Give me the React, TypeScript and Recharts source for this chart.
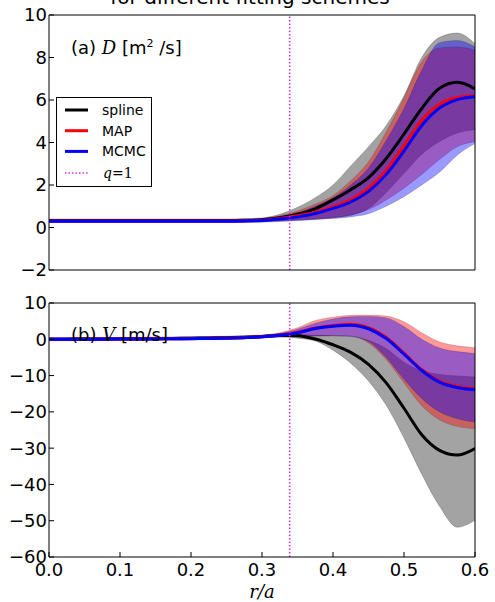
import React from 'react';
import { ComposedChart, Area, Line, XAxis, YAxis, ReferenceLine } from 'recharts';

// r/a sample points
const radius = [0, 0.025, 0.05, 0.075, 0.1, 0.125, 0.15, 0.175, 0.2, 0.225, 0.25, 0.275, 0.3, 0.325, 0.35, 0.375, 0.4, 0.425, 0.45, 0.475, 0.5, 0.525, 0.55, 0.575, 0.6];
const qSurface = 0.339;

// (a) D [m^2/s]
const splineD = [0.33, 0.33, 0.33, 0.33, 0.33, 0.33, 0.33, 0.33, 0.33, 0.33, 0.33, 0.34, 0.37, 0.46, 0.62, 0.88, 1.3, 1.78, 2.35, 3.25, 4.4, 5.6, 6.55, 6.83, 6.52];
const splineDLo = [0.27, 0.27, 0.27, 0.27, 0.27, 0.27, 0.27, 0.27, 0.27, 0.27, 0.27, 0.27, 0.29, 0.32, 0.36, 0.4, 0.47, 0.57, 0.9, 1.65, 2.55, 3.45, 4.05, 4.45, 4.6];
const splineDHi = [0.4, 0.4, 0.4, 0.4, 0.4, 0.4, 0.4, 0.4, 0.4, 0.4, 0.4, 0.41, 0.45, 0.62, 0.95, 1.4, 2.0, 2.9, 3.8, 4.8, 6.2, 8.0, 8.95, 9.15, 8.65];
const mapD = [0.31, 0.31, 0.31, 0.31, 0.31, 0.31, 0.31, 0.31, 0.31, 0.31, 0.31, 0.32, 0.34, 0.42, 0.55, 0.72, 0.98, 1.3, 1.85, 2.7, 3.85, 5.05, 5.8, 6.12, 6.2];
const mapDLo = [0.25, 0.25, 0.25, 0.25, 0.25, 0.25, 0.25, 0.25, 0.25, 0.25, 0.25, 0.25, 0.27, 0.3, 0.35, 0.4, 0.45, 0.6, 0.85, 1.3, 1.85, 2.5, 3.2, 3.8, 4.05];
const mapDHi = [0.38, 0.38, 0.38, 0.38, 0.38, 0.38, 0.38, 0.38, 0.38, 0.38, 0.38, 0.39, 0.42, 0.55, 0.78, 1.1, 1.5, 2.2, 3.1, 4.5, 6.1, 7.8, 8.45, 8.5, 8.35];
const mcmcD = [0.3, 0.3, 0.3, 0.3, 0.3, 0.3, 0.3, 0.3, 0.3, 0.3, 0.3, 0.31, 0.33, 0.4, 0.5, 0.66, 0.9, 1.2, 1.7, 2.5, 3.6, 4.8, 5.62, 6.02, 6.15];
const mcmcDLo = [0.24, 0.24, 0.24, 0.24, 0.24, 0.24, 0.24, 0.24, 0.24, 0.24, 0.24, 0.24, 0.25, 0.28, 0.32, 0.37, 0.42, 0.5, 0.65, 1.0, 1.45, 2.0, 2.6, 3.4, 3.95];
const mcmcDHi = [0.37, 0.37, 0.37, 0.37, 0.37, 0.37, 0.37, 0.37, 0.37, 0.37, 0.37, 0.38, 0.4, 0.5, 0.7, 1.0, 1.4, 2.0, 2.8, 4.1, 5.6, 7.4, 8.7, 8.8, 8.5];

// (b) V [m/s]
const splineV = [0, 0.03, 0.06, 0.09, 0.12, 0.16, 0.2, 0.25, 0.3, 0.37, 0.45, 0.58, 0.78, 1.1, 1.0, 0.1, -1.5, -3.6, -6.9, -12.0, -19.0, -26.3, -30.6, -31.9, -30.1];
const splineVLo = [-0.4, -0.37, -0.34, -0.31, -0.28, -0.24, -0.2, -0.15, -0.1, -0.03, 0.05, 0.18, 0.38, 0.7, 0.3, -0.5, -3.0, -6.6, -11.5, -18.2, -27.2, -37.2, -46.0, -51.8, -49.9];
const splineVHi = [0.4, 0.43, 0.46, 0.49, 0.52, 0.56, 0.6, 0.65, 0.7, 0.77, 0.85, 0.98, 1.18, 1.5, 1.35, 1.1, 1.0, 0.8, -0.3, -2.6, -6.3, -8.7, -9.7, -10.1, -10.4];
const mapV = [0, 0.02, 0.04, 0.06, 0.08, 0.1, 0.13, 0.16, 0.2, 0.26, 0.34, 0.48, 0.72, 1.2, 1.95, 3.1, 3.8, 4.15, 3.2, 0.5, -3.8, -8.4, -11.5, -13.0, -13.6];
const mapVLo = [-0.35, -0.33, -0.31, -0.29, -0.27, -0.25, -0.22, -0.19, -0.15, -0.09, -0.01, 0.13, 0.37, 0.6, 0.8, 0.9, 1.0, 0.9, -1.0, -5.6, -12.0, -18.3, -22.2, -24.0, -24.6];
const mapVHi = [0.35, 0.37, 0.39, 0.41, 0.43, 0.45, 0.48, 0.51, 0.55, 0.61, 0.69, 0.83, 1.07, 1.8, 3.2, 5.2, 6.1, 6.6, 6.7, 6.4, 4.8, 1.8, -0.7, -1.8, -2.3];
const mcmcV = [0, 0, 0.02, 0.04, 0.06, 0.08, 0.1, 0.13, 0.17, 0.22, 0.3, 0.45, 0.68, 1.1, 1.8, 2.95, 3.6, 3.9, 2.9, 0.2, -4.1, -8.6, -11.8, -13.3, -13.9];
const mcmcVLo = [-0.3, -0.3, -0.28, -0.26, -0.24, -0.22, -0.2, -0.17, -0.13, -0.08, 0, 0.15, 0.38, 0.6, 0.8, 0.9, 1.0, 0.8, -0.6, -5.0, -11.0, -16.3, -20.0, -21.9, -22.8];
const mcmcVHi = [0.3, 0.3, 0.32, 0.34, 0.36, 0.38, 0.4, 0.43, 0.47, 0.52, 0.6, 0.75, 0.98, 1.6, 2.8, 4.4, 5.6, 6.2, 6.3, 5.9, 3.5, 0.0, -2.4, -3.4, -3.9];

const xTicks = [0, 0.1, 0.2, 0.3, 0.4, 0.5, 0.6];
const dTicks = [-2, 0, 2, 4, 6, 8, 10];
const vTicks = [-60, -50, -40, -30, -20, -10, 0, 10];

const SANS = '"DejaVu Sans", sans-serif';
const SERIF = '"DejaVu Serif", serif';
const MAGENTA = '#d42cd4';

const fmt = (v: number) => String(v).replace('-', '\u2212');

const build = (s, sLo, sHi, m, mLo, mHi, c, cLo, cHi) =>
  radius.map((r, i) => ({
    r,
    spline: s[i],
    map: m[i],
    mcmc: c[i],
    splineBand: [sLo[i], sHi[i]],
    mapBand: [mLo[i], mHi[i]],
    mcmcBand: [cLo[i], cHi[i]],
  }));

const topRows = build(splineD, splineDLo, splineDHi, mapD, mapDLo, mapDHi, mcmcD, mcmcDLo, mcmcDHi);
const bottomRows = build(splineV, splineVLo, splineVHi, mapV, mapVLo, mapVHi, mcmcV, mcmcVLo, mcmcVHi);

const axisLine = { stroke: '#000', strokeWidth: 1 };
const tickLine = { stroke: '#000', strokeWidth: 1 };
const tickFont = { fontSize: 18, fill: '#000', fontFamily: SANS };

// axes of width/height 0 are skipped by recharts, so the frame axes get 1px
function Panel({ rows, yDomain, yTicks, height, top, bottom, showX }) {
  return (
    <ComposedChart width={495} height={height} data={rows} margin={{ top: top - 1, right: 19, bottom, left: 0 }}>
      <XAxis xAxisId="b" type="number" dataKey="r" domain={[0, 0.6]} ticks={xTicks} allowDataOverflow interval={0}
        height={showX ? 45 : 1} tick={showX ? tickFont : false} tickFormatter={(v) => v.toFixed(1)}
        tickSize={-5} tickMargin={11} axisLine={axisLine} tickLine={tickLine} />
      <XAxis xAxisId="t" orientation="top" type="number" dataKey="r" domain={[0, 0.6]} ticks={xTicks} allowDataOverflow
        interval={0} height={1} tick={false} tickSize={-5} axisLine={axisLine} tickLine={tickLine} />
      <YAxis yAxisId="l" type="number" domain={yDomain} ticks={yTicks} allowDataOverflow interval={0} width={49}
        tick={tickFont} tickFormatter={fmt} tickSize={-5} tickMargin={7} axisLine={axisLine} tickLine={tickLine} />
      <YAxis yAxisId="r" orientation="right" type="number" domain={yDomain} ticks={yTicks} allowDataOverflow interval={0}
        width={1} tick={false} tickSize={-5} axisLine={axisLine} tickLine={tickLine} />

      <Area xAxisId="b" yAxisId="l" type="monotone" dataKey="splineBand" fill="#000" fillOpacity={0.36}
        stroke="#000" strokeOpacity={0.25} strokeWidth={0.8} isAnimationActive={false} />
      <Area xAxisId="b" yAxisId="l" type="monotone" dataKey="mapBand" fill="#ff0000" fillOpacity={0.4}
        stroke="#000" strokeOpacity={0.2} strokeWidth={0.8} isAnimationActive={false} />
      <Area xAxisId="b" yAxisId="l" type="monotone" dataKey="mcmcBand" fill="#0000ff" fillOpacity={0.4}
        stroke="#000" strokeOpacity={0.2} strokeWidth={0.8} isAnimationActive={false} />

      <Line xAxisId="b" yAxisId="l" type="monotone" dataKey="spline" stroke="#000" strokeWidth={3} dot={false} isAnimationActive={false} />
      <Line xAxisId="b" yAxisId="l" type="monotone" dataKey="map" stroke="#ff0000" strokeWidth={3} dot={false} isAnimationActive={false} />
      <Line xAxisId="b" yAxisId="l" type="monotone" dataKey="mcmc" stroke="#0000ff" strokeWidth={3} dot={false} isAnimationActive={false} />

      <ReferenceLine xAxisId="b" yAxisId="l" x={qSurface} stroke={MAGENTA} strokeWidth={1.5} strokeDasharray="1.5 2" />
    </ComposedChart>
  );
}

function Overlay() {
  const legend = [
    { name: 'spline', color: '#000' },
    { name: 'MAP', color: '#ff0000' },
    { name: 'MCMC', color: '#0000ff' },
  ];
  return (
    <svg width={495} height={602} style={{ position: 'absolute', left: 0, top: 0, pointerEvents: 'none' }}>
      <text x={250} y={4} textAnchor="middle" fontSize={20} fontFamily={SANS} fill="#000">for different fitting schemes</text>

      <text x={71} y={54} fontSize={18} fontFamily={SANS} fill="#000">
        (a) <tspan fontFamily={SERIF} fontStyle="italic">D</tspan> [m<tspan fontSize={11} dy={-7}>2</tspan><tspan dy={7}> /s]</tspan>
      </text>
      <text x={71} y={341} fontSize={18} fontFamily={SANS} fill="#000">
        (b) <tspan fontFamily={SERIF} fontStyle="italic">V</tspan> [m/s]
      </text>

      <g>
        <rect x={56.5} y={97.5} width={95} height={89} fill="#fff" stroke="#000" strokeWidth={1} />
        {legend.map((d, i) => (
          <g key={d.name}>
            <line x1={65} x2={88} y1={110 + i * 20.7} y2={110 + i * 20.7} stroke={d.color} strokeWidth={3} />
            <text x={102} y={115 + i * 20.7} fontSize={14} fontFamily={SANS} fill="#000">{d.name}</text>
          </g>
        ))}
        <line x1={65} x2={88} y1={173} y2={173} stroke={MAGENTA} strokeWidth={1.5} strokeDasharray="1.5 2" />
        <text x={103} y={178} fontSize={14} fontFamily={SERIF} fill="#000">
          <tspan fontStyle="italic">q</tspan>=1
        </text>
      </g>

      <text x={262} y={598} textAnchor="middle" fontSize={18} fontFamily={SERIF} fontStyle="italic" fill="#000">r/a</text>
    </svg>
  );
}

export default function App() {
  return (
    <div style={{ position: 'absolute', left: 0, top: 0, width: 495, height: 602, background: '#fff', overflow: 'hidden' }}>
      <div style={{ position: 'absolute', left: 0, top: 0 }}>
        <Panel rows={topRows} yDomain={[-2, 10]} yTicks={dTicks} height={300} top={15} bottom={29} showX={false} />
      </div>
      <div style={{ position: 'absolute', left: 0, top: 290 }}>
        <Panel rows={bottomRows} yDomain={[-60, 10]} yTicks={vTicks} height={312} top={13} bottom={0} showX={true} />
      </div>
      <Overlay />
    </div>
  );
}
